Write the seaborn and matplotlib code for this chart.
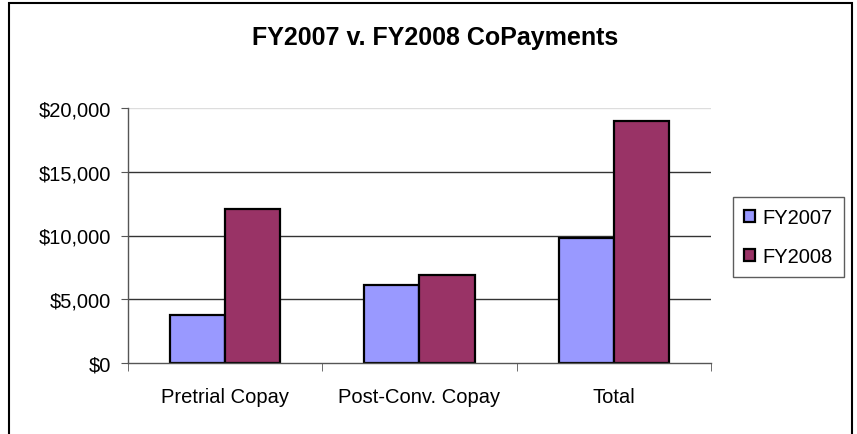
import matplotlib
matplotlib.use("Agg")
import matplotlib.pyplot as plt
import seaborn as sns
import pandas as pd
from matplotlib.patches import Rectangle
from matplotlib.ticker import FuncFormatter, FixedLocator

categories = ["Pretrial Copay", "Post-Conv. Copay", "Total"]
fy2007 = [3730, 6080, 9820]
fy2008 = [12040, 6870, 18960]
series_names = ["FY2007", "FY2008"]
colors = ["#9999FF", "#993366"]

df = pd.DataFrame({
    "category": categories * 2,
    "value": fy2007 + fy2008,
    "series": [series_names[0]] * 3 + [series_names[1]] * 3,
})

sns.set_style("white")
plt.rcParams["font.family"] = ["Liberation Sans", "DejaVu Sans"]
plt.rcParams["text.color"] = "black"
plt.rcParams["xtick.color"] = "black"
plt.rcParams["ytick.color"] = "black"

fig = plt.figure(figsize=(8.57, 4.35), dpi=100)
ax = fig.add_axes([128 / 857, 1 - 364 / 435, (711 - 128) / 857, (364 - 109) / 435])

sns.barplot(data=df, x="category", y="value", hue="series", palette=colors,
            width=0.567, gap=0, edgecolor="black", linewidth=1.6, ax=ax,
            saturation=1, errorbar=None)

ax.set_xlim(-0.5, 2.5)
ax.set_ylim(0, 20000)
ax.set_yticks([0, 5000, 10000, 15000, 20000])
ax.yaxis.set_major_formatter(FuncFormatter(lambda v, p: "${:,.0f}".format(v)))
ax.set_xlabel("")
ax.set_ylabel("")
for y in [5000, 10000, 15000]:
    ax.axhline(y, color="#333333", lw=1.0, zorder=0)
ax.axhline(20000, color="#dddddd", lw=1.0, zorder=0)

for s in ["top", "right"]:
    ax.spines[s].set_visible(False)
for s in ["left", "bottom"]:
    ax.spines[s].set_color("#555555")
    ax.spines[s].set_linewidth(1.0)

ax.tick_params(axis="x", which="major", length=0, pad=17, labelsize=14.5, labelcolor="black")
ax.xaxis.set_minor_locator(FixedLocator([-0.5, 0.5, 1.5, 2.5]))
ax.tick_params(axis="x", which="minor", length=6, direction="out", color="#555555", bottom=True)
ax.tick_params(axis="y", length=5, direction="out", color="#555555", left=True, labelsize=14.5,
               pad=7, labelcolor="black")

ax.set_title("")
fig.text(435 / 857, 1 - 38 / 435, "FY2007 v. FY2008 CoPayments", ha="center", va="center",
         fontsize=18, fontweight="bold", color="black")

handles, labels = ax.get_legend_handles_labels()
leg = ax.legend(handles, labels, loc="upper left", bbox_to_anchor=(733 / 857, 1 - 198 / 435),
                bbox_transform=fig.transFigure, frameon=True, fancybox=False, edgecolor="#333333",
                fontsize=14.5, handlelength=0.55, handleheight=0.55, handletextpad=0.35,
                labelspacing=1.0, borderpad=0.55, borderaxespad=0)
leg.get_frame().set_linewidth(1.0)
for t in leg.get_texts():
    t.set_color("black")

fig.patches.append(Rectangle((9 / 857, -0.1), (852 - 9) / 857, 1.1 - 4 / 435,
                             transform=fig.transFigure, fill=False, edgecolor="black",
                             linewidth=1.5))

fig.savefig("out.png", dpi=100)
